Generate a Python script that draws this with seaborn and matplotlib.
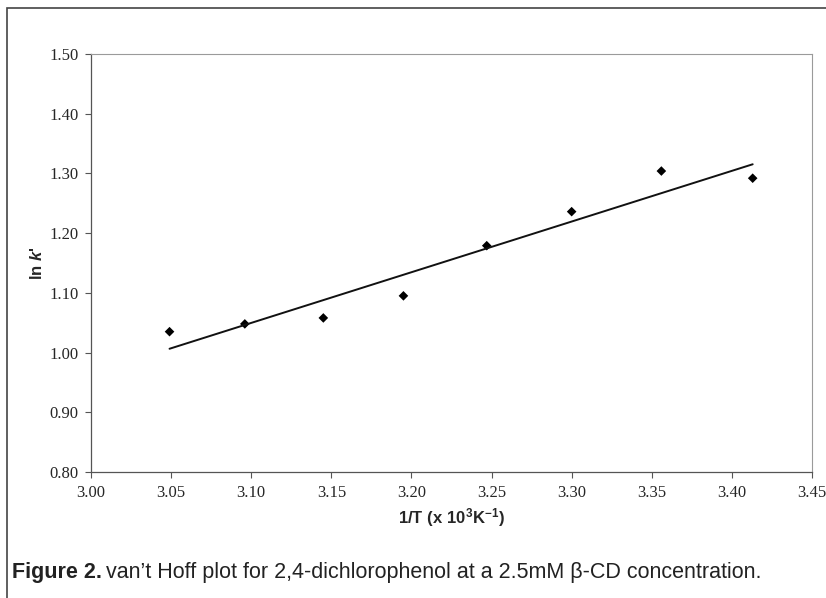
import matplotlib
matplotlib.use("Agg")
import matplotlib.pyplot as plt
import seaborn as sns
import numpy as np
import pandas as pd
from matplotlib.patches import Rectangle

inv_T = [3.049, 3.096, 3.145, 3.195, 3.247, 3.300, 3.356, 3.413]
ln_k = [1.035, 1.048, 1.058, 1.095, 1.179, 1.236, 1.304, 1.292]
x_ticks = [3.00, 3.05, 3.10, 3.15, 3.20, 3.25, 3.30, 3.35, 3.40, 3.45]
y_ticks = [0.80, 0.90, 1.00, 1.10, 1.20, 1.30, 1.40, 1.50]

df = pd.DataFrame({"inv_T": inv_T, "ln_k": ln_k})

sns.set_style("white")
plt.rcParams["mathtext.fontset"] = "custom"
plt.rcParams["mathtext.rm"] = "Liberation Sans:bold"
plt.rcParams["mathtext.bf"] = "Liberation Sans:bold"
plt.rcParams["mathtext.it"] = "Liberation Sans:bold:italic"

fig = plt.figure(figsize=(8.26, 5.98), dpi=100)
ax = fig.add_axes([0.1102, 0.2107, 0.8728, 0.699])

sns.regplot(data=df, x="inv_T", y="ln_k", ax=ax, ci=None,
            marker="D", color="black",
            scatter_kws={"s": 24, "edgecolor": "none", "alpha": 1},
            line_kws={"linewidth": 1.4, "color": "#111111"})

ax.set_xlim(3.00, 3.45)
ax.set_ylim(0.80, 1.50)
ax.set_xticks(x_ticks)
ax.set_yticks(y_ticks)
ax.set_xticklabels([f"{v:.2f}" for v in x_ticks], family="Liberation Serif", fontsize=12)
ax.set_yticklabels([f"{v:.2f}" for v in y_ticks], family="Liberation Serif", fontsize=12)
ax.tick_params(axis="both", direction="out", length=4, width=0.8, color="#555555", pad=5)
ax.tick_params(axis="y", left=True)
ax.tick_params(axis="x", bottom=True)

for side in ["left", "bottom"]:
    ax.spines[side].set_color("#555555")
    ax.spines[side].set_linewidth(0.9)
for side in ["top", "right"]:
    ax.spines[side].set_color("#9a9a9a")
    ax.spines[side].set_linewidth(0.8)

ax.set_xlabel(r"$\mathrm{1/T\ (x\ 10^{3}K^{-1})}$", fontsize=12, labelpad=4)
ax.set_ylabel(r"$\mathrm{ln}\ \mathit{k}$'", family="Liberation Sans", fontweight="bold",
              fontsize=12, labelpad=3)

# outer frame
fig.patches.append(Rectangle((0.008, -0.05), 1.05, 1.037, transform=fig.transFigure,
                             fill=False, edgecolor="#444444", linewidth=1.2))

cap_font = ["Liberation Sans", "DejaVu Sans"]
t1 = fig.text(0.0145, 0.033, "Figure 2.", family=cap_font, fontweight="bold",
              fontsize=15.5, color="#222222", va="baseline")
fig.canvas.draw()
bb = t1.get_window_extent(fig.canvas.get_renderer())
fig.text(bb.x1 / fig.bbox.width + 0.005, 0.033,
         "van\u2019t Hoff plot for 2,4-dichlorophenol at a 2.5mM \u03b2-CD concentration.",
         family=cap_font, fontsize=15.5, color="#222222", va="baseline")

fig.savefig("out.png", dpi=100)
